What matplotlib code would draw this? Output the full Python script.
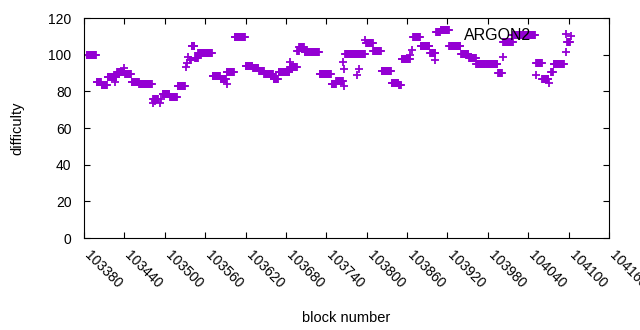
import matplotlib
matplotlib.use("Agg")
import matplotlib.pyplot as plt
import numpy as np

plt.rcParams['font.family'] = ['Liberation Sans', 'DejaVu Sans']

#### Data ####

# runs of blocks with (nearly) the same difficulty: first block, last block, difficulty
seg_start = [103384, 103399, 103406, 103415, 103429, 103440, 103441, 103451, 103462,
             103483, 103497, 103508, 103519, 103537, 103540, 103545, 103550, 103571,
             103583, 103592, 103604, 103620, 103631, 103640, 103648, 103662, 103669,
             103686, 103697, 103700, 103708, 103730, 103748, 103755, 103768, 103799,
             103810, 103822, 103837, 103848, 103852, 103869, 103880, 103894, 103903,
             103910, 103923, 103940, 103952, 103963, 103995, 104003, 104018, 104052,
             104061, 104074, 104078, 104098]
seg_end = [103398, 103405, 103414, 103428, 103439, 103440, 103450, 103461, 103481,
           103490, 103507, 103518, 103530, 103539, 103544, 103549, 103570, 103582,
           103591, 103603, 103619, 103630, 103639, 103647, 103661, 103668, 103685,
           103696, 103699, 103707, 103729, 103747, 103754, 103765, 103797, 103809,
           103821, 103836, 103847, 103851, 103864, 103879, 103893, 103902, 103909,
           103922, 103939, 103951, 103962, 103994, 104001, 104017, 104050, 104060,
           104070, 104077, 104093, 104102]
seg_value = [100, 85, 83.5, 88, 90.5, 93, 89.5, 85, 84,
             76, 78.5, 77, 83, 97, 105, 98, 101, 88.5,
             86.5, 90.5, 109.5, 94, 92.5, 91, 89.5, 87, 90.5,
             93.5, 102, 104, 101.5, 89.5, 84, 85.5, 100.5, 106.5,
             102, 91, 84.5, 83.5, 97.5, 109.5, 104.5, 101, 112.5,
             113.5, 104.5, 100.5, 98, 95, 90, 107, 110.5, 95.5,
             87, 90.5, 95, 107]

# single blocks standing apart from the runs
lone_block = [103426, 103482, 103486, 103493, 103495, 103531, 103533, 103535,
              103592, 103686, 103765, 103766, 103767, 103786, 103788, 103798,
              103865, 103867, 103902, 104002, 104051, 104071, 104096, 104104]
lone_value = [85, 73.5, 75, 73.5, 76, 93.5, 95.5, 98.5,
              84, 96, 96, 92, 83, 89, 92, 108,
              100, 102.5, 97, 98.5, 89, 84.5, 101.5, 110]

x_ticks = np.arange(103380, 104161, 60)
y_ticks = np.arange(0, 121, 20)

#### Expand runs ####

blocks = [np.arange(s, e + 1) for s, e in zip(seg_start, seg_end)]
values = [np.full(len(b), v) for b, v in zip(blocks, seg_value)]
blocks = np.concatenate(blocks + [np.array(lone_block)])
values = np.concatenate(values + [np.array(lone_value)])

#### Plot ####

fig = plt.figure(figsize=(6.4, 3.3), dpi=100)
ax = fig.add_axes([84 / 640, 1 - 238 / 330, 525 / 640, 220 / 330])

ax.plot(blocks, values, linestyle='none', marker='+', markersize=6,
        markeredgewidth=1.3, color='#9400d3', label='ARGON2')

ax.set_xlim(103380, 104160)
ax.set_ylim(0, 120)
ax.set_xticks(x_ticks)
ax.set_yticks(y_ticks)
ax.set_xticklabels([str(t) for t in x_ticks], rotation=-45, ha='left',
                   va='baseline', rotation_mode='anchor')
ax.tick_params(direction='in', top=True, right=True, length=4, width=0.8,
               labelsize=10, pad=9)
ax.tick_params(axis='x', pad=13)
for sp in ax.spines.values():
    sp.set_linewidth(0.8)

ax.set_xlabel('block number', fontsize=10.5, labelpad=14)
ax.set_ylabel('difficulty', fontsize=10.5, labelpad=17)

ax.legend(loc='upper right', bbox_to_anchor=(0.985, 1.005), frameon=False,
          markerfirst=False, fontsize=11.5, handlelength=3.0, handletextpad=0.7,
          borderaxespad=0.3)

fig.savefig('out.png', dpi=100)
